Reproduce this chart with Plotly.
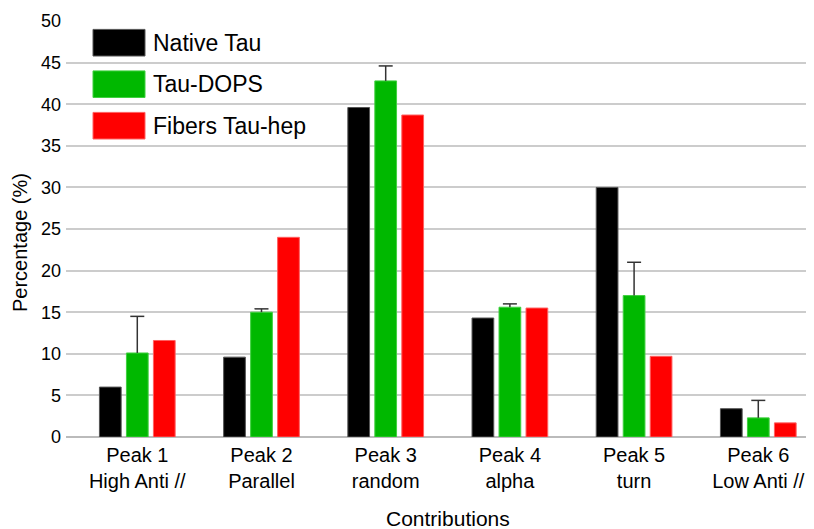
import plotly.graph_objects as go

# ---- data ----
categories = ["Peak 1<br>High Anti //", "Peak 2<br>Parallel", "Peak 3<br>random",
              "Peak 4<br>alpha", "Peak 5<br>turn", "Peak 6<br>Low Anti //"]
series_names = ["Native Tau", "Tau-DOPS", "Fibers Tau-hep"]
native_tau = [6.0, 9.6, 39.6, 14.3, 30.0, 3.4]
tau_dops = [10.1, 15.0, 42.8, 15.6, 17.0, 2.3]
tau_dops_err = [4.4, 0.4, 1.8, 0.4, 4.0, 2.1]
fibers_tau_hep = [11.6, 24.0, 38.7, 15.5, 9.7, 1.7]
y_ticks = [0, 5, 10, 15, 20, 25, 30, 35, 40, 45, 50]
x_title = "Contributions"
y_title = "Percentage (%)"

colors = ["#000000", "#00B800", "#FF0000"]
edge_colors = ["#555555", "#40D040", "#FF6060"]
err_color = "#333333"

# page has an 8px body margin; figure offset by 8px
OFF = 8
W, H = 814 - 2 * OFF, 529 - OFF
ML, MT = 66 - OFF, 21 - OFF
MR = 0
MB = H - (437 - OFF)
PW, PH = W - ML - MR, H - MT - MB

fig = go.Figure()
vals = [native_tau, tau_dops, fibers_tau_hep]
for i, (name, v) in enumerate(zip(series_names, vals)):
    kw = {}
    if i == 1:
        # upward-only stem, no caps (cap drawn below as a marker)
        kw["error_y"] = dict(type="data", symmetric=False, array=tau_dops_err,
                             arrayminus=[0] * len(tau_dops_err),
                             color=err_color, thickness=1.5, width=0)
    fig.add_trace(go.Bar(x=categories, y=v, name=name,
                         marker=dict(color=colors[i], line=dict(color=edge_colors[i], width=1)),
                         showlegend=False, **kw))

# error-bar caps at the top of the Tau-DOPS error bars (middle bar = category centre)
err_tops = [v + e for v, e in zip(tau_dops, tau_dops_err)]
fig.add_trace(go.Scatter(x=categories, y=err_tops, mode="markers", showlegend=False,
                         hoverinfo="skip",
                         marker=dict(symbol="line-ew", size=10,
                                     line=dict(color=err_color, width=1.5))))

font_family = "Liberation Sans, Arial, sans-serif"

# helpers: page pixel -> paper coordinates
def px_x(p):
    return (p - OFF - ML) / PW

def px_y(p):
    return (MT + PH - (p - OFF)) / PH

shapes = []
annotations = []
centers = [42.7, 84.2, 125.7]
for i, name in enumerate(series_names):
    cy = centers[i]
    shapes.append(dict(type="rect", xref="paper", yref="paper",
                       x0=px_x(93), x1=px_x(145), y0=px_y(cy + 13.3), y1=px_y(cy - 13.3),
                       fillcolor=colors[i], line=dict(color=edge_colors[i], width=1)))
    annotations.append(dict(xref="paper", yref="paper", x=px_x(151), y=px_y(cy),
                            text=name, showarrow=False, xanchor="left", yanchor="middle",
                            font=dict(size=23, color="#000000", family=font_family)))

# axis titles
annotations.append(dict(xref="paper", yref="paper", x=px_x(448), y=px_y(518),
                        text=x_title, showarrow=False, xanchor="center", yanchor="middle",
                        font=dict(size=21, color="#000000", family=font_family)))
annotations.append(dict(xref="paper", yref="paper", x=px_x(20), y=px_y(243),
                        text=y_title, showarrow=False, xanchor="center", yanchor="middle",
                        textangle=-90,
                        font=dict(size=20, color="#000000", family=font_family)))

unit_px = 124.2
x0 = -0.574
x1 = x0 + PW / unit_px

fig.update_layout(
    width=W, height=H,
    margin=dict(l=ML, r=MR, t=MT, b=MB),
    paper_bgcolor="white", plot_bgcolor="white",
    barmode="group", bargap=0.348, bargroupgap=0.195,
    font=dict(family=font_family, color="#000000"),
    shapes=shapes, annotations=annotations,
    xaxis=dict(range=[x0, x1], showgrid=False, ticks="", showline=False,
               zeroline=False, tickfont=dict(size=20), automargin=False,
               ticklabelstandoff=4),
    yaxis=dict(range=[0, 50], tickvals=y_ticks, showgrid=True, gridcolor="#CCCCCC",
               gridwidth=1.5, zeroline=True, zerolinecolor="#BBBBBB", zerolinewidth=1.5,
               showline=False, ticks="", tickfont=dict(size=18), automargin=False,
               ticklabelstandoff=4),
)

fig.write_html("out.html")
